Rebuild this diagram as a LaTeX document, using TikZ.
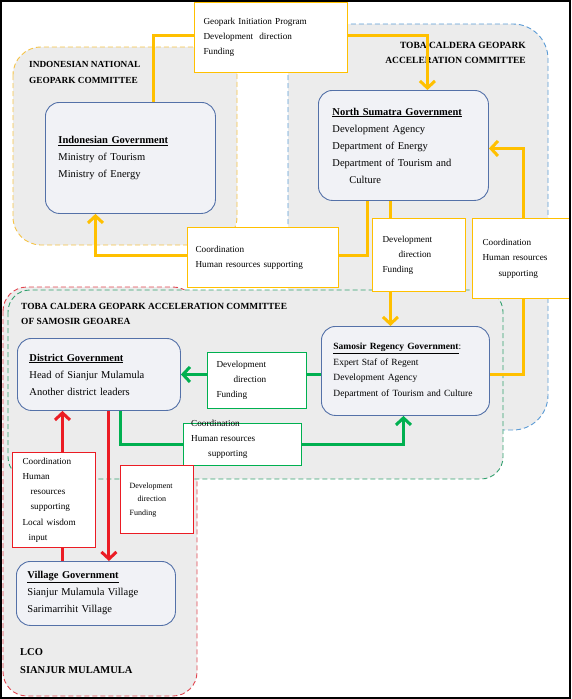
\documentclass[tikz,border=0pt]{standalone}
\usepackage{fontspec}
\setmainfont{Liberation Serif}
\usetikzlibrary{arrows.meta}

\definecolor{areagray}{RGB}{236,236,236}
\definecolor{boxfill}{RGB}{241,242,246}
\definecolor{boxblue}{RGB}{84,113,168}
\definecolor{gold}{RGB}{255,192,0}
\definecolor{gogreen}{RGB}{0,176,80}
\definecolor{stopred}{RGB}{235,28,36}
\definecolor{skyblue}{RGB}{91,155,213}
\definecolor{dashgreen}{RGB}{50,160,110}
\definecolor{dashred}{RGB}{225,70,80}
\definecolor{dashgold}{RGB}{245,195,70}

\newcommand\govfont{\fontsize{10.5}{17}\selectfont}
\newcommand\samofont{\fontsize{9.5}{15.5}\selectfont}
\newcommand\lblfont{\fontsize{9.2}{15.2}\selectfont}
\newcommand\smlfont{\fontsize{8}{13.5}\selectfont}
\newcommand\ttlfont{\fontsize{9.3}{16}\selectfont\bfseries}

\tikzset{
  area/.style={fill=areagray, dash pattern=on 5pt off 3pt, line width=0.9pt},
  gov/.style={draw=boxblue, fill=boxfill, rounded corners=14pt, line width=0.9pt,
    align=left, anchor=north west, font=\govfont, inner ysep=0pt},
  lbl/.style={draw, fill=white, align=left, anchor=north west, font=\lblfont,
    inner ysep=0pt, line width=1.2pt},
  ttl/.style={align=left, inner sep=0pt, font=\ttlfont},
  flow/.style={line width=3pt, -{Straight Barb[length=7pt,width=15pt]}},
}

\begin{document}
\begin{tikzpicture}[x=1pt,y=-1pt]
\useasboundingbox (0,0) rectangle (572,699);
% committee areas
\draw[area, draw=dashgold, rounded corners=28pt] (13,47) rectangle (237,245);
\draw[area, draw=skyblue, rounded corners=35pt] (288,24) rectangle (548,430);
\draw[area, draw=dashred, rounded corners=24pt] (3,287) rectangle (197,696);
\draw[area, draw=dashgreen, rounded corners=22pt] (8,290) rectangle (503,479);

\node[ttl, anchor=north west] (ingc) at (29,61) {INDONESIAN NATIONAL\\GEOPARK COMMITTEE};
\node[ttl, anchor=north east, align=right, font=\fontsize{9.5}{15}\selectfont\bfseries]
  (tcgac) at (526,42) {TOBA CALDERA GEOPARK\\ACCELERATION COMMITTEE};
\node[ttl, anchor=north west, font=\fontsize{9.4}{15}\selectfont\bfseries]
  (samoc) at (21,303) {TOBA CALDERA GEOPARK ACCELERATION COMMITTEE\\OF SAMOSIR GEOAREA};
\node[ttl, anchor=north west, font=\fontsize{10.5}{18}\selectfont\bfseries]
  (lco) at (20,648) {LCO\\SIANJUR MULAMULA};

% governments
\node[gov, minimum width=170pt, minimum height=111pt, text width=144pt, inner xsep=13pt]
  (indo) at (45,102) {\underline{\textbf{Indonesian Government}}\\Ministry of Tourism\\Ministry of Energy};
\node[gov, minimum width=170pt, minimum height=110pt, text width=142pt, inner xsep=14pt]
  (nsum) at (318,90) {\underline{\textbf{North Sumatra Government}}\\Development Agency\\Department of Energy\\Department of Tourism and\\\hspace*{17pt}Culture};
\node[gov, minimum width=168pt, minimum height=89pt, text width=144pt, inner xsep=12pt, font=\samofont]
  (samo) at (321,326) {\underline{\textbf{Samosir Regency Government}}:\\Expert Staf of Regent\\Development Agency\\Department of Tourism and Culture};
\node[gov, minimum width=163pt, minimum height=72pt, text width=139pt, inner xsep=12pt]
  (dist) at (17,338) {\underline{\textbf{District Government}}\\Head of Sianjur Mulamula\\Another district leaders};
\node[gov, minimum width=159pt, minimum height=64pt, text width=137pt, inner xsep=11pt]
  (vill) at (16,561) {\underline{\textbf{Village Government}}\\Sianjur Mulamula Village\\Sarimarrihit Village};

% flows
\draw[flow, gold] ([xshift=23pt]indo.north) -- ++(0,-67) -| ([xshift=24pt]nsum.north);
\draw[flow, gold] ([xshift=-36pt]nsum.south) -- ++(0,55) -| ([xshift=-35pt]indo.south);
\draw[flow, gold] ([xshift=-13pt]nsum.south) -- ([xshift=-15pt]samo.north);
\draw[flow, gold] (samo.east |- dist.east) -- ++(34,0) |- ([yshift=-3pt]nsum.east);
\draw[flow, gogreen] (samo.west |- dist.east) -- (dist.east);
\draw[flow, gogreen] ([xshift=21.5pt]dist.south) -- ++(0,34) -| ([xshift=-2pt]samo.south);
\coordinate (vup) at ([xshift=-33.5pt]vill.north);
\coordinate (dndown) at ([xshift=10pt]dist.south);
\draw[flow, stopred] (vup) -- (vup |- dist.south);
\draw[flow, stopred] (dndown) -- (dndown |- vill.north);

% flow labels
\node[lbl, draw=gold, minimum width=153pt, minimum height=70pt, text width=135pt, inner xsep=9pt]
  (gip) at (194,2) {Geopark Initiation Program\\Development\ \ direction\\Funding};
\node[lbl, draw=gold, minimum width=151pt, minimum height=60pt, text width=135pt, inner xsep=8pt]
  (coordn) at (187,227) {Coordination\\Human resources supporting};
\node[lbl, draw=gold, minimum width=93pt, minimum height=73pt, text width=73pt, inner xsep=10pt]
  (devn) at (372,218) {Development\\\hspace*{16pt}direction\\Funding};
\node[lbl, draw=gold, minimum width=97pt, minimum height=80pt, text width=77pt, inner xsep=10pt]
  (coords) at (472,218) {Coordination\\Human resources\\\hspace*{16pt}supporting};
\node[lbl, draw=gogreen, line width=1pt, minimum width=99pt, minimum height=56pt, text width=81pt, inner xsep=9pt]
  (devs) at (207,352) {Development\\\hspace*{17pt}direction\\Funding\\[5pt]};
\node[lbl, draw=gogreen, line width=1pt, minimum width=118pt, minimum height=42pt] (coordd) at (183,423) {};
\node[ttl, anchor=north west, font=\lblfont] (coorddtxt) at (191,420) {Coordination\\Human resources\\\hspace*{17pt}supporting};
\node[lbl, draw=stopred, minimum width=83pt, minimum height=95pt, text width=63pt, inner xsep=10pt]
  (coordv) at (12,452) {Coordination\\Human\\\hspace*{8pt}resources\\\hspace*{8pt}supporting\\Local wisdom\\\hspace*{6pt}input};
\node[lbl, draw=stopred, font=\smlfont, minimum width=73pt, minimum height=68pt, text width=55pt, inner xsep=9pt]
  (devd) at (120,465) {Development\\\hspace*{8pt}direction\\Funding};

\draw[line width=2pt] (1,1) rectangle (570,698);
\end{tikzpicture}
\end{document}
